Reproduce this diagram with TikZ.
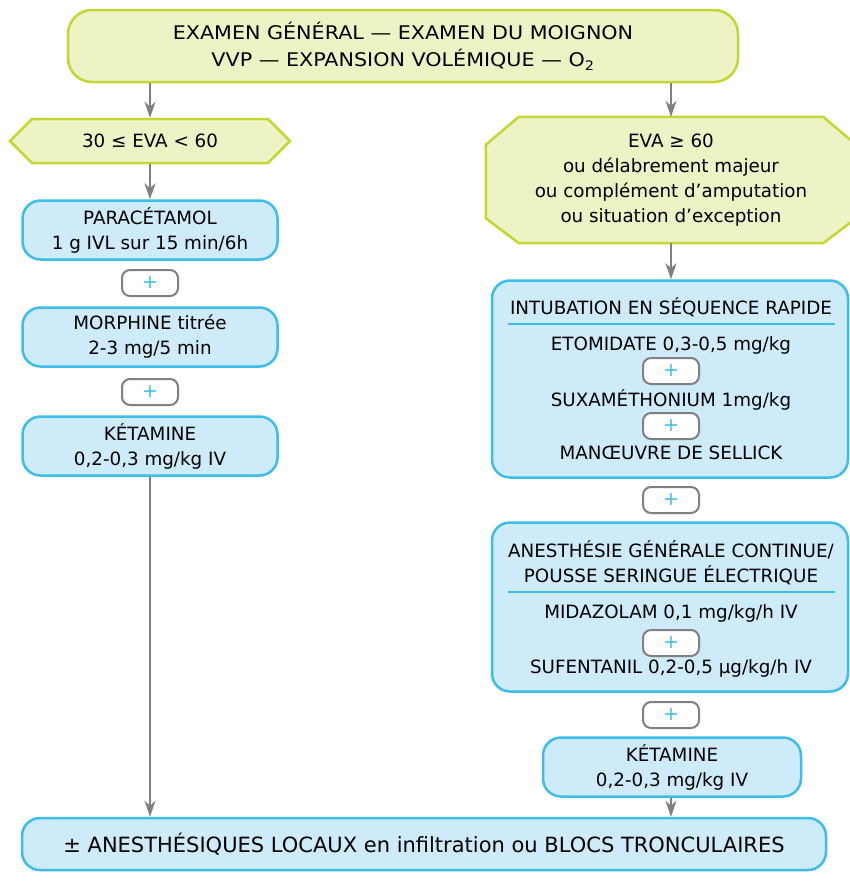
\documentclass[tikz,border=0pt]{standalone}
\usepackage{fontspec}
\setmainfont{DejaVu Sans}
\newfontfamily\widefont[FakeStretch=1.1]{DejaVu Sans}
\usetikzlibrary{shapes.geometric, shapes.symbols, arrows.meta, calc}
\definecolor{vertclair}{HTML}{EEF3C6}
\definecolor{vertbord}{HTML}{C5D633}
\definecolor{bleuclair}{HTML}{CDEBF8}
\definecolor{bleubord}{HTML}{3CBDEA}
\definecolor{grisfl}{HTML}{808080}
\tikzstyle{process} = [rectangle, rounded corners=18pt, draw=bleubord, fill=bleuclair, line width=2.5pt, align=center, inner sep=0pt, font=\fontsize{18.3}{25}\selectfont]
\tikzstyle{decision} = [draw=vertbord, fill=vertclair, line width=2.5pt, align=center, inner sep=0pt, font=\fontsize{18.3}{25}\selectfont]
\tikzstyle{plus} = [rectangle, rounded corners=8pt, draw=grisfl, fill=white, line width=2pt, minimum width=56pt, minimum height=26pt, text=bleubord, font=\fontsize{19}{19}\selectfont]
\tikzstyle{texte} = [align=center, inner sep=0pt, font=\fontsize{18.3}{25}\selectfont]
\tikzstyle{arrow} = [draw=grisfl, line width=2pt, -{Stealth[length=16pt, width=11pt, inset=5pt]}]

\begin{document}
\begin{tikzpicture}[x=1pt, y=-1pt]
\useasboundingbox (0,0) rectangle (850,887);

% Top
\node (T) [process, draw=vertbord, fill=vertclair, rounded corners=24pt, minimum width=670pt, minimum height=72pt, font=\widefont\fontsize{18.8}{27}\selectfont] at (403,46) {EXAMEN GÉNÉRAL — EXAMEN DU MOIGNON\\VVP — EXPANSION VOLÉMIQUE — O\textsubscript{2}};

% Left side
\node (E1) [decision, signal, signal to=west and east, signal pointer angle=90, minimum width=280pt, minimum height=44pt] at (150,141) {30 ≤ EVA < 60};
\node (L1) [process, minimum width=255pt, minimum height=59pt] at (150,230) {PARACÉTAMOL\\1 g IVL sur 15 min/6h};
\node (P1) [plus] at (150,283) {+};
\node (L2) [process, minimum width=255pt, minimum height=59pt] at (150,337) {MORPHINE titrée\\2-3 mg/5 min};
\node (P2) [plus] at (150,392) {+};
\node (L3) [process, minimum width=255pt, minimum height=59pt] at (150,446) {KÉTAMINE\\0,2-0,3 mg/kg IV};

% Right side
\node (E2) [texte, minimum width=370pt, minimum height=126pt] at (671,180) {};
\draw [decision] ($(E2.north west)+(33,0)$) -- ($(E2.north east)+(-33,0)$) -- ($(E2.north east)+(0,28)$) -- ($(E2.south east)+(0,-25)$) -- ($(E2.south east)+(-33,0)$) -- ($(E2.south west)+(33,0)$) -- ($(E2.south west)+(0,-25)$) -- ($(E2.north west)+(0,28)$) -- cycle;
\node (E2t) [texte] at (E2) {EVA ≥ 60\\ou délabrement majeur\\ou complément d’amputation\\ou situation d’exception};

\node (R1) [process, minimum width=356pt, minimum height=197pt] at (670,379) {};
\node (R1a) [texte] at (671,307) {INTUBATION EN SÉQUENCE RAPIDE};
\draw [bleubord, line width=2pt] (508,324) -- (835,324);
\node (R1b) [texte] at (671,345) {ETOMIDATE 0,3-0,5 mg/kg};
\node (P3) [plus] at (671,371) {+};
\node (R1c) [texte] at (671,400) {SUXAMÉTHONIUM 1mg/kg};
\node (P4) [plus] at (671,426) {+};
\node (R1d) [texte] at (671,453) {MANŒUVRE DE SELLICK};

\node (P5) [plus] at (671,500) {+};

\node (R2) [process, minimum width=356pt, minimum height=169pt] at (670,607) {};
\node (R2a) [texte] at (671,563) {ANESTHÉSIE GÉNÉRALE CONTINUE/\\POUSSE SERINGUE ÉLECTRIQUE};
\draw [bleubord, line width=2pt] (508,592) -- (835,592);
\node (R2b) [texte] at (671,613) {MIDAZOLAM 0,1 mg/kg/h IV};
\node (P6) [plus] at (671,643) {+};
\node (R2c) [texte] at (671,668) {SUFENTANIL 0,2-0,5 µg/kg/h IV};

\node (P7) [plus] at (671,715) {+};
\node (R3) [process, minimum width=258pt, minimum height=59pt] at (672,767) {KÉTAMINE\\0,2-0,3 mg/kg IV};

% Bottom
\node (B) [process, minimum width=804pt, minimum height=52pt, font=\fontsize{21}{25}\selectfont] at (424,844) {± ANESTHÉSIQUES LOCAUX en infiltration ou BLOCS TRONCULAIRES};

% Connecting arrows
\draw [arrow] (T.south -| E1.north) -- (E1.north);
\draw [arrow] (T.south -| E2.north) -- (E2.north);
\draw [arrow] (E1.south) -- (L1.north);
\draw [arrow] (E2.south) -- (E2.south |- R1.north);
\draw [arrow] (L3.south) -- (L3.south |- B.north);
\draw [arrow] (R3.south -| E2.south) -- (E2.south |- B.north);

\end{tikzpicture}
\end{document}
